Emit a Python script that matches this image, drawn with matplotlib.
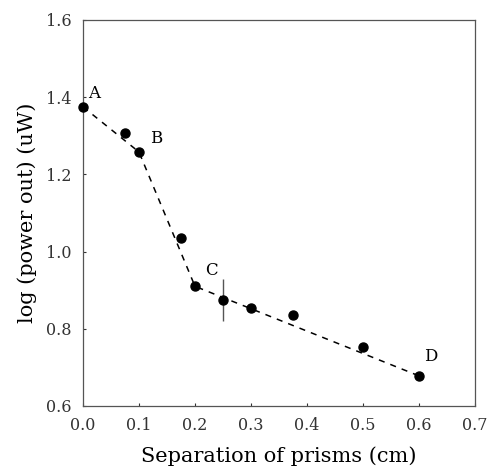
import matplotlib.pyplot as plt

# measured points
sep = [0.0, 0.075, 0.1, 0.175, 0.2, 0.25, 0.3, 0.375, 0.5, 0.6]
logp = [1.375, 1.307, 1.258, 1.035, 0.911, 0.875, 0.854, 0.836, 0.753, 0.678]

# error bar on point C
err_x = [0.25]
err_y = [0.875]
err_size = [0.055]

# dashed fit through the corner points
fit_x = [0.0, 0.1, 0.2, 0.6]
fit_y = [1.375, 1.258, 0.91, 0.678]

# point labels
lab_text = ['A', 'B', 'C', 'D']
lab_x = [0.009, 0.12, 0.218, 0.609]
lab_y = [1.398, 1.281, 0.939, 0.717]

xticks = [0.0, 0.1, 0.2, 0.3, 0.4, 0.5, 0.6, 0.7]
yticks = [0.6, 0.8, 1.0, 1.2, 1.4, 1.6]

plt.rcParams['font.family'] = ['DejaVu Serif']

fig = plt.figure(figsize=(4.89, 4.66), dpi=100)
ax = fig.add_axes([0.1697, 0.1288, 0.8017, 0.8283])

ax.plot(fit_x, fit_y, linestyle=(0, (4, 4)), color='black', linewidth=1.1)
ax.plot(sep, logp, 'o', color='black', markersize=6.5, clip_on=False, zorder=3)
ax.errorbar(err_x, err_y, yerr=err_size, fmt='none', ecolor='#555555',
            elinewidth=1, capsize=0)

for t, x, y in zip(lab_text, lab_x, lab_y):
    ax.text(x, y, t, fontsize=12, color='black')

ax.set_xlim(0.0, 0.7)
ax.set_ylim(0.6, 1.6)
ax.set_xticks(xticks)
ax.set_yticks(yticks)
ax.set_xticklabels([f'{v:.1f}' for v in xticks])
ax.set_yticklabels([f'{v:.1f}' for v in yticks])
ax.tick_params(direction='in', length=2, width=0.8, labelsize=11.5, pad=8, colors='#333333')

for s in ax.spines.values():
    s.set_color('#555555')
    s.set_linewidth(0.9)

ax.set_xlabel('Separation of prisms (cm)', fontsize=15, labelpad=9)
ax.set_ylabel('log (power out) (uW)', fontsize=15, labelpad=7)

fig.savefig('out.png', dpi=100)
